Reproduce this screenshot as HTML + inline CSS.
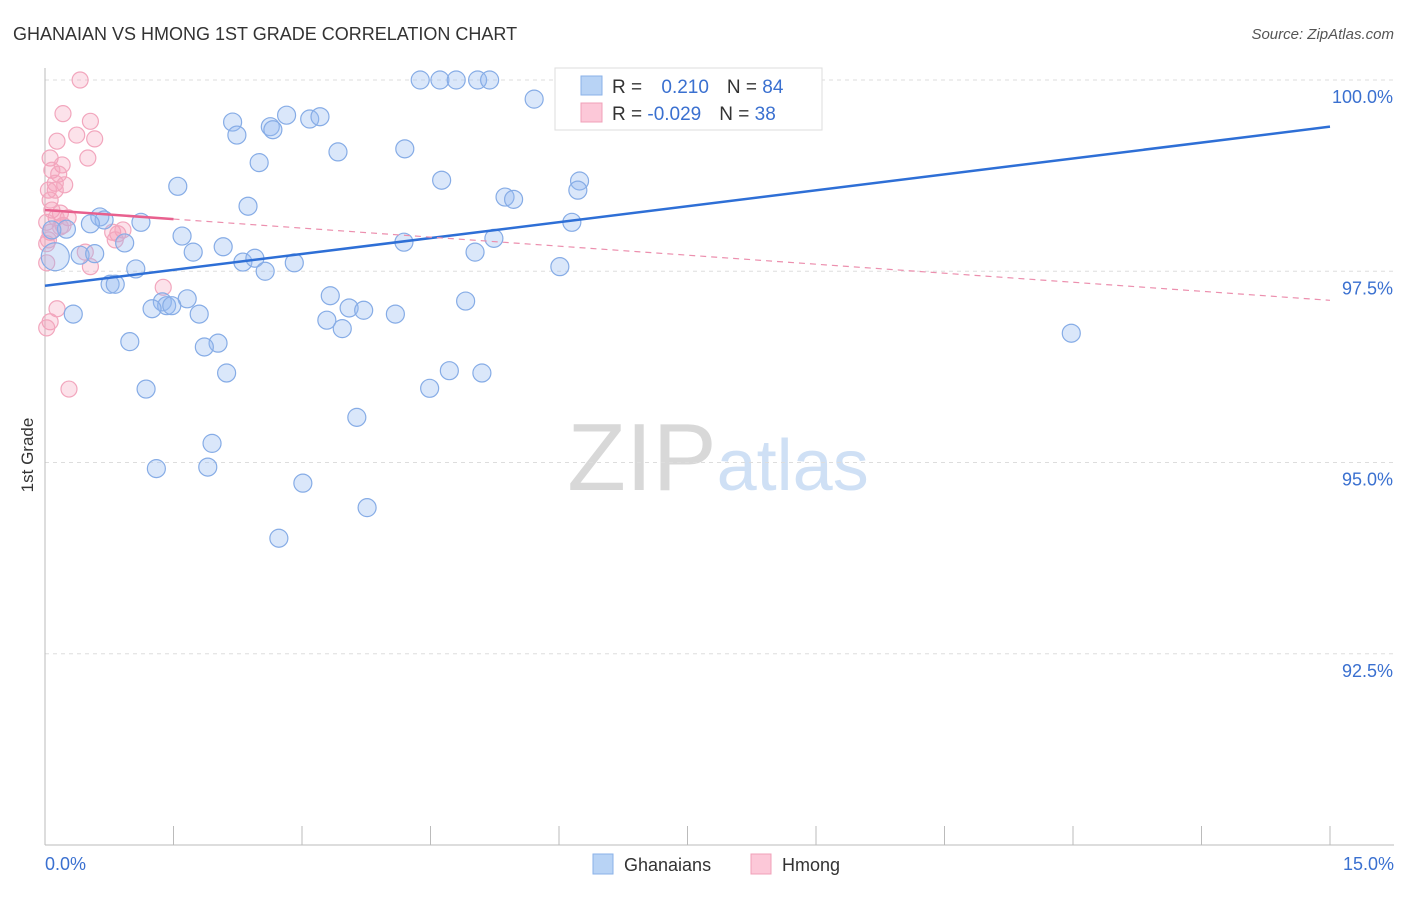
<!DOCTYPE html>
<html><head><meta charset="utf-8"><style>
body{margin:0;background:#fff;font-family:"Liberation Sans",sans-serif;}
svg text{font-family:"Liberation Sans",sans-serif;}
</style></head><body>
<svg id="chart" width="1406" height="892" xmlns="http://www.w3.org/2000/svg">
<text x="13" y="40" font-size="18" fill="#333">GHANAIAN VS HMONG 1ST GRADE CORRELATION CHART</text>
<text x="1394" y="39" font-size="15" fill="#555" text-anchor="end" font-style="italic">Source: ZipAtlas.com</text>
<text x="718" y="490" font-size="96" fill="#ddd" text-anchor="middle" font-family="Liberation Serif"><tspan fill="#d8d8d8">ZIP</tspan><tspan fill="#cfe0f5" font-family="Liberation Sans" font-size="72">atlas</tspan></text>
<g id="grid"></g><g id="axes"></g><g id="marks"></g>
<text transform="translate(33,455) rotate(-90)" font-size="17" fill="#333" text-anchor="middle">1st Grade</text>
<g>
<rect x="555" y="68" width="267" height="62" fill="#fff" stroke="#ddd"/>
<rect x="581" y="76" width="21" height="19" fill="#b8d3f5" stroke="#8ab2e8"/>
<rect x="581" y="103" width="21" height="19" fill="#fcc8d8" stroke="#f0a0b8"/>
<text x="612" y="93" font-size="19" fill="#333">R = <tspan fill="#3a70d0" dx="14">0.210</tspan><tspan fill="#333" dx="18">N = </tspan><tspan fill="#3a70d0">84</tspan></text>
<text x="612" y="120" font-size="19" fill="#333">R = <tspan fill="#3a70d0">-0.029</tspan><tspan fill="#333" dx="18">N = </tspan><tspan fill="#3a70d0">38</tspan></text>
</g>
<g>
<rect x="593" y="854" width="20" height="20" fill="#b8d3f5" stroke="#8ab2e8"/>
<text x="624" y="871" font-size="18" fill="#333">Ghanaians</text>
<rect x="751" y="854" width="20" height="20" fill="#fcc8d8" stroke="#f0a0b8"/>
<text x="782" y="871" font-size="18" fill="#333">Hmong</text>
</g>
</svg>
<script>
const yTicks=[100.0,97.5,95.0,92.5];
const yTickLabels=["100.0%","97.5%","95.0%","92.5%"];
const xTickVals=[0,1.5,3,4.5,6,7.5,9,10.5,12,13.5,15];
const blueX=[4.38,4.61,4.80,5.05,5.19,6.92,7.23,5.71,2.19,2.24,2.63,2.66,2.82,3.09,3.21,3.42,4.20,2.50,4.63,1.55,5.37,5.47,6.24,6.22,2.37,0.64,0.69,0.53,1.12,0.25,0.08,6.15,1.60,0.93,2.08,1.73,4.19,5.24,5.02,0.12,0.41,0.58,2.31,2.45,2.91,2.57,1.06,6.01,0.76,0.82,3.33,1.66,1.37,1.42,1.48,1.25,3.55,3.72,4.91,4.09,1.80,0.33,3.29,3.47,11.98,0.99,2.02,1.86,2.12,4.72,5.10,4.49,1.18,3.64,1.95,1.30,1.90,3.01,3.76,2.73];
const blueY=[100.0,100.0,100.0,100.0,100.0,100.0,100.0,99.75,99.45,99.28,99.39,99.35,99.54,99.49,99.52,99.06,99.10,98.92,98.69,98.61,98.47,98.44,98.68,98.56,98.35,98.21,98.17,98.12,98.14,98.05,98.04,98.14,97.96,97.87,97.82,97.75,97.88,97.93,97.75,97.69,97.71,97.73,97.62,97.67,97.61,97.50,97.53,97.56,97.33,97.33,97.18,97.14,97.10,97.05,97.05,97.01,97.02,96.99,97.11,96.94,96.94,96.94,96.86,96.75,96.69,96.58,96.56,96.51,96.17,96.20,96.17,95.97,95.96,95.59,95.25,94.92,94.94,94.73,94.41,94.01];
const pinkX=[0.41,0.21,0.53,0.37,0.58,0.14,0.50,0.06,0.20,0.08,0.16,0.12,0.23,0.04,0.06,0.08,0.18,0.27,0.13,0.02,0.21,0.06,0.79,0.85,0.91,0.47,0.02,0.53,0.02,1.38,0.14,0.06,0.02,0.28,0.12,0.04,0.18,0.82];
const pinkY=[100.0,99.56,99.46,99.28,99.23,99.20,98.98,98.98,98.89,98.82,98.77,98.65,98.63,98.56,98.43,98.30,98.26,98.20,98.20,98.14,98.10,98.01,98.01,97.99,98.04,97.75,97.86,97.56,97.61,97.29,97.01,96.84,96.76,95.96,98.56,97.91,98.08,97.91];
const blueTrend=[97.31,99.39];
const pinkTrend=[98.30,97.12];
const pinkSolidEnd=1.5;
const ns="http://www.w3.org/2000/svg";
const X=v=>45+v*(1285/15);
const Y=v=>80+(100-v)*76.5;
function mk(tag,at,parent){const e=document.createElementNS(ns,tag);for(const k in at)e.setAttribute(k,at[k]);parent.appendChild(e);return e;}
const grid=document.getElementById('grid'),axes=document.getElementById('axes'),marks=document.getElementById('marks');
yTicks.forEach((t,i)=>{
 const l=mk('line',{x1:45,x2:1394,y1:Y(t),y2:Y(t),stroke:'#ddd','stroke-dasharray':'4,4'},grid);
 
 
 const tx=mk('text',{x:1393,y:Y(t)+23,'font-size':18,fill:'#3a70d0','text-anchor':'end'},axes);
 tx.textContent=yTickLabels[i];
 
 
});
const ax=mk('line',{x1:45,x2:1394,y1:845,y2:845,stroke:'#bbb'},axes);


const ay=mk('line',{x1:45,x2:45,y1:68,y2:845,stroke:'#bbb'},axes);


xTickVals.forEach(v=>{
 const t=mk('line',{x1:X(v),x2:X(v),y1:826,y2:845,stroke:'#bbb'},axes);
 
 
});
[[0,"0.0%",'start',45],[15,"15.0%",'end',1394]].forEach(a=>{
 const t=mk('text',{x:a[3],y:870,'font-size':18,fill:'#3a70d0','text-anchor':a[2]},axes);
 t.textContent=a[1];
 
 
});
pinkX.forEach((x,i)=>{
 const c=mk('circle',{cx:X(x),cy:Y(pinkY[i]),r:8,fill:'rgba(245,160,185,0.3)',stroke:'#f2a6bd','stroke-width':1.2},marks);
 
 
});
blueX.forEach((x,i)=>{
 const big=(i==39)?14:9;
 const c=mk('circle',{cx:X(x),cy:Y(blueY[i]),r:big,fill:'rgba(150,185,240,0.35)',stroke:'#86ace6','stroke-width':1.2},marks);
 
 
});
const bl=mk('line',{x1:X(0),y1:Y(blueTrend[0]),x2:X(15),y2:Y(blueTrend[1]),stroke:'#2e6fd6','stroke-width':2.5},marks);


const pyAt=v=>pinkTrend[0]+(pinkTrend[1]-pinkTrend[0])*v/15;
const pd=mk('line',{x1:X(pinkSolidEnd),y1:Y(pyAt(pinkSolidEnd)),x2:X(15),y2:Y(pinkTrend[1]),stroke:'#ec8fae','stroke-width':1.2,'stroke-dasharray':'6,5'},marks);


const ps=mk('line',{x1:X(0),y1:Y(pinkTrend[0]),x2:X(pinkSolidEnd),y2:Y(pyAt(pinkSolidEnd)),stroke:'#e8608e','stroke-width':2.5},marks);


</script>
</body></html>
